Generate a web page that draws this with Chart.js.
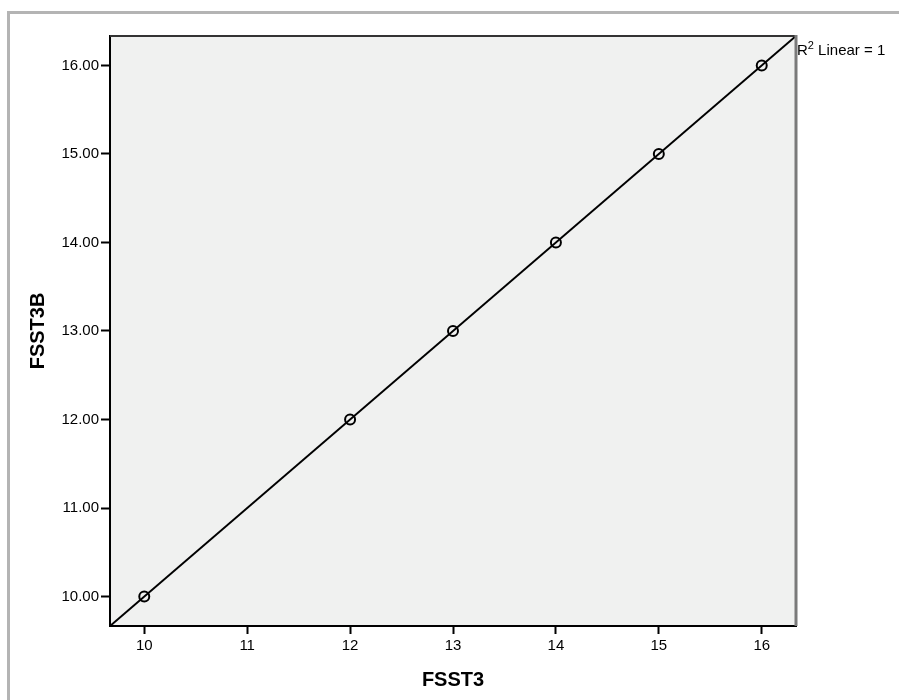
<!DOCTYPE html>
<html>
<head>
<meta charset="utf-8">
<script src="https://cdn.jsdelivr.net/npm/chart.js@4.4.0/dist/chart.umd.min.js"></script>
<style>
  html, body { margin: 0; padding: 0; background: #fff; }
  #wrap { width: 899px; height: 700px; }
</style>
</head>
<body>
<div id="wrap"><canvas id="chart" width="899" height="700"></canvas></div>
<script>
const fsst3 = [10, 12, 13, 14, 15, 16];
const fsst3b = [10, 12, 13, 14, 15, 16];
const xTicks = [10, 11, 12, 13, 14, 15, 16];
const yTicks = [10, 11, 12, 13, 14, 15, 16];
const axisMin = 9.667;
const axisMax = 16.333;

// least squares fit line
const n = fsst3.length;
const mx = fsst3.reduce((a, b) => a + b, 0) / n;
const my = fsst3b.reduce((a, b) => a + b, 0) / n;
let sxy = 0, sxx = 0, syy = 0;
for (let i = 0; i < n; i++) {
    sxy += (fsst3[i] - mx) * (fsst3b[i] - my);
    sxx += (fsst3[i] - mx) ** 2;
    syy += (fsst3b[i] - my) ** 2;
}
const slope = sxy / sxx;
const intercept = my - slope * mx;
const r2 = (sxy * sxy) / (sxx * syy);
const fitLine = [axisMin, axisMax].map(x => ({ x: x, y: intercept + slope * x }));

const points = fsst3.map((x, i) => ({ x: x, y: fsst3b[i] }));

const FONT = '"Liberation Sans", Arial, sans-serif';

const framePlugin = {
    id: 'frame',
    beforeDraw(chart) {
        const ctx = chart.ctx;
        const a = chart.chartArea;
        ctx.save();
        ctx.strokeStyle = '#b4b4b4';
        ctx.lineWidth = 3;
        ctx.strokeRect(8.5, 12.5, 1000, 1000);
        ctx.fillStyle = '#f0f1f0';
        ctx.fillRect(a.left, a.top, a.right - a.left, a.bottom - a.top);
        ctx.restore();
    },
    afterDatasetsDraw(chart) {
        const ctx = chart.ctx;
        const a = chart.chartArea;
        ctx.save();
        ctx.strokeStyle = '#333';
        ctx.lineWidth = 2;
        ctx.beginPath();
        ctx.moveTo(a.left, a.top);
        ctx.lineTo(a.right, a.top);
        ctx.stroke();
        ctx.strokeStyle = '#7a7a7a';
        ctx.lineWidth = 3;
        ctx.beginPath();
        ctx.moveTo(a.right, a.top - 1);
        ctx.lineTo(a.right, a.bottom);
        ctx.stroke();

        // R2 label
        ctx.fillStyle = '#000';
        ctx.textBaseline = 'alphabetic';
        ctx.font = '15px ' + FONT;
        let x = a.right + 1;
        const y = a.top + 19;
        ctx.fillText('R', x, y);
        x += ctx.measureText('R').width;
        ctx.font = '11px ' + FONT;
        ctx.fillText('2', x, y - 6);
        x += ctx.measureText('2').width;
        ctx.font = '15px ' + FONT;
        ctx.fillText(' Linear = ' + Math.round(r2 * 1000) / 1000, x, y);
        ctx.restore();
    }
};

new Chart(document.getElementById('chart'), {
    type: 'scatter',
    data: {
        datasets: [
            {
                label: 'Fit',
                type: 'line',
                data: fitLine,
                borderColor: '#000',
                borderWidth: 2,
                pointRadius: 0,
                fill: false,
                tension: 0
            },
            {
                label: 'FSST3B',
                data: points,
                pointStyle: 'circle',
                pointRadius: 5,
                pointBorderWidth: 2,
                pointBorderColor: '#000',
                pointBackgroundColor: 'rgba(0,0,0,0)'
            }
        ]
    },
    options: {
        responsive: false,
        animation: false,
        layout: { padding: { top: 36, right: 103, left: 0, bottom: 0 } },
        plugins: {
            legend: { display: false },
            tooltip: { enabled: false }
        },
        scales: {
            x: {
                type: 'linear',
                min: axisMin,
                max: axisMax,
                afterBuildTicks: scale => { scale.ticks = xTicks.map(v => ({ value: v })); },
                afterFit: scale => { scale.height = 74; },
                ticks: {
                    color: '#000',
                    padding: 3,
                    font: { family: FONT, size: 15 },
                    callback: v => String(v)
                },
                grid: {
                    drawOnChartArea: false,
                    drawTicks: true,
                    tickLength: 8,
                    tickColor: '#000',
                    tickWidth: 2
                },
                border: { color: '#000', width: 2 },
                title: {
                    display: true,
                    text: 'FSST3',
                    color: '#000',
                    font: { family: FONT, size: 20, weight: 'bold' },
                    padding: { top: 8, bottom: 8 }
                }
            },
            y: {
                type: 'linear',
                min: axisMin,
                max: axisMax,
                afterBuildTicks: scale => { scale.ticks = yTicks.map(v => ({ value: v })); },
                afterFit: scale => { scale.width = 110; },
                ticks: {
                    color: '#000',
                    padding: 2,
                    font: { family: FONT, size: 15 },
                    callback: v => Number(v).toFixed(2)
                },
                grid: {
                    drawOnChartArea: false,
                    drawTicks: true,
                    tickLength: 9,
                    tickColor: '#000',
                    tickWidth: 2
                },
                border: { color: '#000', width: 2 },
                title: {
                    display: true,
                    text: 'FSST3B',
                    color: '#000',
                    font: { family: FONT, size: 20, weight: 'bold' },
                    padding: { top: 26, bottom: 26 }
                }
            }
        }
    },
    plugins: [framePlugin]
});
</script>
</body>
</html>
